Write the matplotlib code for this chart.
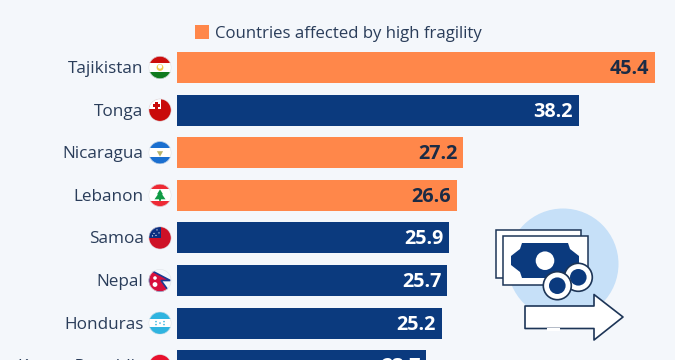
import matplotlib
matplotlib.use("Agg")
import matplotlib.pyplot as plt
from matplotlib.patches import Circle, Rectangle, Polygon, RegularPolygon
from matplotlib.lines import Line2D

countries = ["Tajikistan", "Tonga", "Nicaragua", "Lebanon", "Samoa", "Nepal", "Honduras", "Kyrgyz Republic"]
values = [45.4, 38.2, 27.2, 26.6, 25.9, 25.7, 25.2, 23.7]
fragile = [True, False, True, True, False, False, False, False]
legend_label = "Countries affected by high fragility"

BG = "#f4f7fb"
ORANGE = "#ff874a"
NAVY = "#0b3a7e"
TEXT = "#2a3d5a"
INK = "#1d3557"
FONT = "Open Sans"

W, H = 675, 360
fig = plt.figure(figsize=(W / 100, H / 100), dpi=100, facecolor=BG)

# bar axes: x spans pixel 176.5..655 for 0..45.4; rows are 42.6 px apart
x0, x1 = 176.5, 655.0
ax = fig.add_axes([x0 / W, 0, (x1 - x0) / W, 1])
ax.set_xlim(0, 45.4)
first, step = 67.5, 42.6
ax.set_ylim((H - first) / step, -first / step)
ax.axis("off")

colors = [ORANGE if f else NAVY for f in fragile]
ax.barh(range(len(values)), values, height=31 / step, color=colors, linewidth=0)
for i, (v, f) in enumerate(zip(values, fragile)):
    ax.annotate(f"{v:.1f}", (v, i), xytext=(-6, 1), textcoords="offset pixels", ha="right",
                va="center_baseline", fontsize=14.2, fontweight="bold", family=FONT,
                color="#1b2b45" if f else "white", annotation_clip=False)

# overlay in pixel coordinates for labels, flags, legend and icon
ov = fig.add_axes([0, 0, 1, 1], facecolor="none")
ov.set_xlim(0, W)
ov.set_ylim(H, 0)
ov.axis("off")

for i, c in enumerate(countries):
    ov.text(143.5, first + i * step - 0.5, c, ha="right", va="center_baseline", fontsize=12.3,
            family=FONT, color=TEXT)

ov.add_patch(Rectangle((194.5, 24.5), 14.5, 14.5, color=ORANGE, lw=0))
ov.text(215, 32, legend_label, ha="left", va="center_baseline", fontsize=12.1, family=FONT, color=TEXT)


def flag(i, draw):
    cx, cy, r = 160, first + i * step, 11.3
    clip = Circle((cx, cy), r, transform=ov.transData)
    for p in draw(cx, cy, r):
        ov.add_artist(p)
        p.set_clip_path(clip)
    ov.add_patch(Circle((cx, cy), r - 0.2, facecolor="none", edgecolor="#dfe3e8", lw=0.4))


def stripes(cx, cy, r, cols, shares):
    out, y = [], cy - r
    for col, s in zip(cols, shares):
        out.append(Rectangle((cx - r, y), 2 * r, 2 * r * s, color=col, lw=0))
        y += 2 * r * s
    return out


def tajik(cx, cy, r):
    return stripes(cx, cy, r, ["#cc0d0d", "white", "#0f7a1e"], [.30, .42, .28]) + [
        Circle((cx, cy), 3.4, color="#f0c94a", lw=0), Circle((cx, cy - .9), 2.1, color="white", lw=0)]


def tonga(cx, cy, r):
    return [Circle((cx, cy), r, color="#c90a0a", lw=0),
            Rectangle((cx - r, cy - r), r + 1, r - 1, color="white", lw=0),
            Rectangle((cx - 4.8, cy - 8), 2.8, 7, color="#c90a0a", lw=0),
            Rectangle((cx - 7, cy - 5.9), 7.2, 2.8, color="#c90a0a", lw=0)]


def nicaragua(cx, cy, r):
    return stripes(cx, cy, r, ["#1a6fd0", "white", "#1a6fd0"], [.31, .38, .31]) + [
        RegularPolygon((cx, cy + .3), 3, radius=3.6, color="#b9b46a", lw=0)]


def lebanon(cx, cy, r):
    return stripes(cx, cy, r, ["#ee2a35", "white", "#ee2a35"], [.24, .52, .24]) + [
        Polygon([(cx, cy - 6), (cx + 3, cy - 1), (cx + 2, cy - 1), (cx + 5.5, cy + 4), (cx + 1, cy + 4),
                 (cx + 1, cy + 5.5), (cx - 1, cy + 5.5), (cx - 1, cy + 4), (cx - 5.5, cy + 4),
                 (cx - 2, cy - 1), (cx - 3, cy - 1)], color="#119b45", lw=0)]


def samoa(cx, cy, r):
    stars = [(-6, -4.5), (-3, -8), (-1, -5), (-4, -2.5), (-7.5, -2)]
    return [Circle((cx, cy), r, color="#ce1126", lw=0),
            Rectangle((cx - r, cy - r), r + 1, r, color="#0b2f80", lw=0)] + [
        Circle((cx + a, cy + b), .6, color="white", lw=0) for a, b in stars]


def nepal(cx, cy, r):
    return [Circle((cx, cy), r, color="#f4f7fb", lw=0),
            Polygon([(cx - r, cy - r), (cx + r - 1, cy), (cx + 1, cy), (cx + r - 2, cy + r), (cx - r, cy + r)],
                    facecolor="#d80f3c", edgecolor="#1b3a93", lw=1.2),
            Circle((cx - 5, cy - 2.5), 1.8, color="white", lw=0),
            Circle((cx - 5, cy + 4), 2.4, color="white", lw=0)]


def honduras(cx, cy, r):
    dots = [(-4, -1.5), (4, -1.5), (0, 0), (-4, 1.5), (4, 1.5)]
    return stripes(cx, cy, r, ["#2fb4e0", "white", "#2fb4e0"], [.33, .34, .33]) + [
        Circle((cx + a, cy + b), .8, color="#2fb4e0", lw=0) for a, b in dots]


def kyrgyz(cx, cy, r):
    return [Circle((cx, cy), r, color="#e8112d", lw=0), Circle((cx, cy), 4.5, color="#ffd800", lw=0)]


for i, d in enumerate([tajik, tonga, nicaragua, lebanon, samoa, nepal, honduras, kyrgyz]):
    flag(i, d)

# illustration
ov.add_patch(Circle((563, 264), 55.5, color="#c6e0f8", lw=0))
for (xa, ya) in [(496, 229.5), (503, 236.3)]:
    ov.add_patch(Rectangle((xa, ya), 84.5, 48.7, facecolor="white", edgecolor=INK, lw=1.1))
ov.add_patch(Polygon([(522, 243), (568, 243), (570, 249), (579, 256), (579, 265), (570, 272), (568, 278),
                      (522, 278), (520, 272), (511, 265), (511, 256), (520, 249)], color=NAVY, lw=0))
ov.add_patch(Circle((545, 260.7), 9.3, color="white", lw=0))
for (cx, cy) in [(578.3, 277.3), (557.3, 285.7)]:
    ov.add_patch(Circle((cx, cy), 14, facecolor="white", edgecolor=INK, lw=1.2))
    ov.add_patch(Circle((cx, cy), 8.3, color=NAVY, lw=0))
ov.add_patch(Polygon([(525, 306), (594, 306), (594, 294.5), (623, 317), (594, 340), (594, 328.5), (525, 328.5)],
                     facecolor="white", edgecolor=INK, lw=1.2, joinstyle="round"))
ov.add_artist(Line2D([547.5, 558], [328.5, 328.5], color="white", lw=2.2))

fig.savefig("out.png", dpi=100, facecolor=BG)
